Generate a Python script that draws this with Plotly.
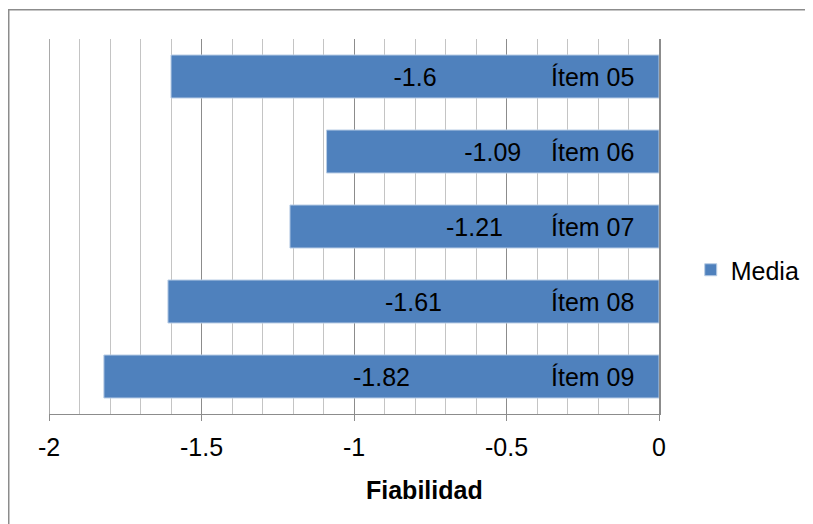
import plotly.graph_objects as go

categories = ["Ítem 05", "Ítem 06", "Ítem 07", "Ítem 08", "Ítem 09"]
media = [-1.6, -1.09, -1.21, -1.61, -1.82]
x_ticks = [-2, -1.5, -1, -0.5, 0]
x_tick_labels = ["-2", "-1.5", "-1", "-0.5", "0"]

FONT = "Liberation Sans, Arial, sans-serif"
FS = 25

fig = go.Figure()
fig.add_trace(go.Bar(
    x=media, y=categories, orientation="h", name="Media",
    marker=dict(color="#4F81BD", line=dict(color="#B9CDE5", width=1)),
    width=0.573,
    text=[str(v) for v in media], textposition="inside", insidetextanchor="middle",
    textfont=dict(family=FONT, size=FS, color="black"),
    constraintext="none",
))

# category labels next to the axis at x = 0 (inside the plot, as in the original)
cat_annotations = [dict(text=c, xref="x", yref="y", x=0, y=c, xanchor="right", yanchor="middle",
                        xshift=-23, showarrow=False, font=dict(family=FONT, size=FS, color="black"))
                   for c in categories]

fig.update_layout(
    width=805, height=516,
    margin=dict(l=41, r=154, t=31, b=110, autoexpand=False),
    paper_bgcolor="white", plot_bgcolor="white",
    font=dict(family=FONT, size=FS, color="black"),
    showlegend=True,
    legend=dict(x=1.052, y=0.384, xanchor="left", yanchor="middle",
                font=dict(family=FONT, size=FS, color="black"),
                itemwidth=30, bgcolor="rgba(0,0,0,0)"),
    xaxis=dict(
        range=[-2, 0], tickvals=x_ticks, ticktext=x_tick_labels,
        showgrid=True, gridcolor="#8C8C8C", gridwidth=1,
        minor=dict(dtick=0.1, showgrid=True, gridcolor="#C4C4C4", gridwidth=1),
        ticks="outside", ticklen=6, tickcolor="#8C8C8C",
        showline=True, linecolor="#8C8C8C", linewidth=1,
        zeroline=False,
        tickfont=dict(family=FONT, size=FS, color="black"),
        ticklabelstandoff=5,
    ),
    yaxis=dict(
        categoryorder="array", categoryarray=categories, autorange="reversed",
        side="right", showticklabels=False, ticks="",
        showline=True, linecolor="#8C8C8C", linewidth=1.5,
        showgrid=False, zeroline=False,
    ),
    annotations=cat_annotations + [dict(text="<b>Fiabilidad</b>", xref="paper", yref="paper",
                      x=0.615, y=-0.203, xanchor="center", yanchor="middle",
                      showarrow=False, font=dict(family=FONT, size=FS, color="black"))],
    shapes=[
        dict(type="rect", xref="paper", yref="paper",
             x0=-0.066, x1=1.4, y0=-0.5, y1=1.078,
             line=dict(color="#8C8C8C", width=1.5), fillcolor="rgba(0,0,0,0)", layer="below"),
        dict(type="line", xref="x", yref="paper", x0=x_ticks[0], x1=x_ticks[0], y0=0, y1=1,
             line=dict(color="#8C8C8C", width=1.5), layer="below"),
    ],
)

fig.write_html("out.html")
